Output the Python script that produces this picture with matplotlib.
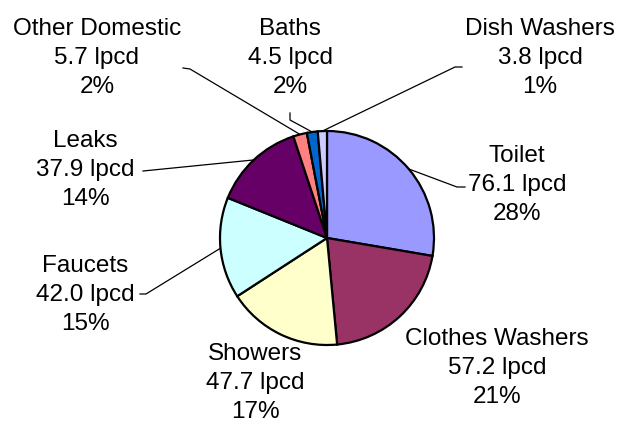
import numpy as np
import matplotlib.pyplot as plt

# indoor water use by end use, litres per capita per day
categories = ['Toilet', 'Clothes Washers', 'Showers', 'Faucets', 'Leaks',
              'Other Domestic', 'Baths', 'Dish Washers']
lpcd = [76.1, 57.2, 47.7, 42.0, 37.9, 5.7, 4.5, 3.8]
colors = ['#9999FF', '#993366', '#FFFFCC', '#CCFFFF', '#660066',
          '#FF8080', '#0066CC', '#CCCCFF']

# label block centres and leader elbows, in pixels from the top-left
label_xy = [(517, 185), (497, 368), (255, 383), (85, 295), (85, 170),
            (97, 58), (290, 58), (540, 58)]
leader = [[(465, 187), (457, 187)], None, None,
          [(140, 294), (146, 294)], [(143, 171)],
          [(183, 68), (190, 69)], [(290, 113), (290, 120)],
          [(462, 67), (455, 67)]]

W, H = 619, 424
cx, cy, r = 327, 238, 107

plt.rcParams['font.family'] = ['Liberation Sans', 'DejaVu Sans']

fig = plt.figure(figsize=(W / 100, H / 100), dpi=100)
ax = fig.add_axes([0, 0, 1, 1])
ax.set_xlim(0, W)
ax.set_ylim(0, H)
ax.set_aspect('equal')
ax.axis('off')

wedges, _ = ax.pie(lpcd, colors=colors, startangle=90, counterclock=False,
                   center=(cx, H - cy), radius=r,
                   wedgeprops=dict(edgecolor='black', linewidth=1.6))
ax.set_xlim(0, W)
ax.set_ylim(0, H)

total = sum(lpcd)
for i, w in enumerate(wedges):
    pct = lpcd[i] / total * 100
    txt = '{}\n{:.1f} lpcd\n{:.0f}%'.format(categories[i], lpcd[i], pct)
    lx, ly = label_xy[i]
    ax.text(lx, H - ly, txt, ha='center', va='center', fontsize=17.5,
            linespacing=1.42, color='black')
    if leader[i] is not None:
        ang = np.deg2rad((w.theta1 + w.theta2) / 2)
        px = cx + r * np.cos(ang)
        py = (H - cy) + r * np.sin(ang)
        xs = [p[0] for p in leader[i]] + [px]
        ys = [H - p[1] for p in leader[i]] + [py]
        ax.plot(xs, ys, color='black', linewidth=0.9, zorder=0.5)

fig.savefig('out.png', dpi=100)
